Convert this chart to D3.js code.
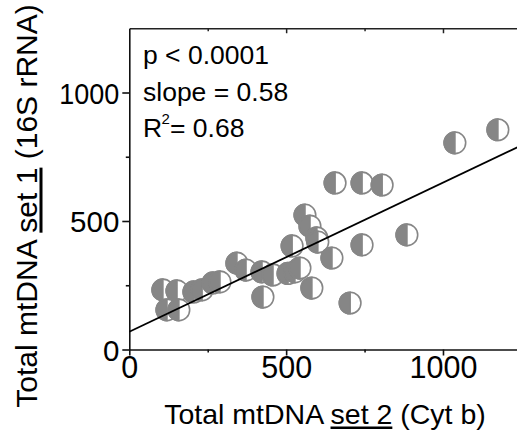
<!DOCTYPE html>
<html>
<head>
<meta charset="utf-8">
<script src="https://cdn.jsdelivr.net/npm/d3@7"></script>
<style>
  html, body { margin: 0; padding: 0; background: #fff; }
  svg { display: block; }
  text { font-family: "Liberation Sans", Arial, Helvetica, sans-serif; fill: #000; }
</style>
</head>
<body>
<svg id="chart" width="517" height="435"></svg>
<script>
// ---- data ----
const xValues = [107,152,120,158,206,232,267,289,343,372,423,426,458,506,528,544,582,519,560,576,598,601,646,742,704,656,742,806,885,1038,1175];
const yValues = [232,228,154,154,224,232,259,263,336,309,302,204,290,296,302,317,239,403,523,480,434,418,356,407,181,648,648,640,446,804,855];
const fitIntercept = 69;
const fitSlope = 0.58;
const majorTicks = [0, 500, 1000];
const minorTicks = [250, 750];
const topMajorTicks = [500, 1000];
const xTitleText = "Total mtDNA set 2 (Cyt b)";
const yTitleText = "Total mtDNA set 1 (16S rRNA)";
const statLines = ["p < 0.0001", "slope = 0.58"];
const r2Label = ["R", "2", "= 0.68"];

const points = xValues.map((x, i) => ({x, y: yValues[i]}));

const svg = d3.select("#chart");
const x = d3.scaleLinear().domain([0, 1250]).range([129.3, 521.4]);
const y = d3.scaleLinear().domain([0, 1250]).range([349.5, 28.25]);
const gray = "#868686";
const fmt = d3.format("d");

// ---- top frame ----
const topG = svg.append("g").attr("transform", `translate(0,${y(1250)})`);
topG.call(d3.axisTop(x).tickValues(topMajorTicks).tickSizeInner(-5).tickSizeOuter(0).tickFormat(""));
const topMinor = svg.append("g").attr("transform", `translate(0,${y(1250)})`);
topMinor.call(d3.axisTop(x).tickValues(minorTicks).tickSizeInner(-3).tickSizeOuter(0).tickFormat(""));
topMinor.select(".domain").remove();
[topG, topMinor].forEach(g => {
  g.selectAll("path, line").attr("stroke", "#222").attr("stroke-width", 1.5);
});

// ---- x axis ----
const xAxisG = svg.append("g").attr("transform", `translate(0,${y(0)})`);
xAxisG.call(d3.axisBottom(x).tickValues(majorTicks).tickFormat(fmt).tickSizeInner(6).tickSizeOuter(0));
const xMinorG = svg.append("g").attr("transform", `translate(0,${y(0)})`);
xMinorG.call(d3.axisBottom(x).tickValues(minorTicks).tickSizeInner(3).tickSizeOuter(0).tickFormat(""));
xMinorG.select(".domain").remove();
xAxisG.selectAll("text")
  .attr("y", 28.5).attr("dy", null)
  .attr("font-size", 30.5)
  .attr("font-family", "Liberation Sans, Arial, sans-serif")
  .attr("fill", "#000");

// ---- y axis ----
const yAxisG = svg.append("g").attr("transform", `translate(${x(0)},0)`);
yAxisG.call(d3.axisLeft(y).tickValues(majorTicks).tickFormat(fmt).tickSizeInner(7).tickSizeOuter(0));
const yMinorG = svg.append("g").attr("transform", `translate(${x(0)},0)`);
yMinorG.call(d3.axisLeft(y).tickValues(minorTicks).tickSizeInner(3.5).tickSizeOuter(0).tickFormat(""));
yMinorG.select(".domain").remove();
yAxisG.selectAll("text")
  .attr("x", -10).attr("y", 10.5).attr("dy", null)
  .attr("font-size", 29.5)
  .attr("font-family", "Liberation Sans, Arial, sans-serif")
  .attr("fill", "#000");
// the reference's "1000" on the y axis is slightly condensed
yAxisG.selectAll("text").filter(d => d === 1000).attr("textLength", 60).attr("lengthAdjust", "spacingAndGlyphs");

[xAxisG, xMinorG, yAxisG, yMinorG].forEach(g => {
  g.selectAll("path, line").attr("stroke", "#111").attr("stroke-width", 1.6);
});

// ---- points ----
const R = 10.8;
const pg = svg.append("g");
const pts = pg.selectAll("g.pt").data(points).join("g")
  .attr("class", "pt")
  .attr("transform", d => `translate(${x(d.x)},${y(d.y)})`);
pts.append("circle").attr("r", R).attr("fill", "#fff").attr("stroke", gray).attr("stroke-width", 1.6);
pts.append("path")
  .attr("d", `M0,${-R} A${R},${R} 0 0 0 0,${R} Z`)
  .attr("fill", gray).attr("stroke", gray).attr("stroke-width", 1.6);

// ---- regression line ----
const line = d3.line().x(d => x(d)).y(d => y(fitIntercept + fitSlope * d));
svg.append("path").datum([0, 1250]).attr("d", line)
  .attr("fill", "none").attr("stroke", "#000").attr("stroke-width", 1.8);

// ---- stats text ----
const statBase = [64, 101];
statLines.forEach((t, i) => {
  svg.append("text")
    .attr("x", 143).attr("y", statBase[i])
    .attr("font-size", 26.5)
    .text(t);
});
svg.append("text").attr("x", 143).attr("y", 137).attr("font-size", 26.5).text(r2Label[0]);
svg.append("text").attr("x", 161.5).attr("y", 124).attr("font-size", 15).text(r2Label[1]);
svg.append("text").attr("x", 170).attr("y", 137).attr("font-size", 26.5).text(r2Label[2]);

// ---- axis titles ----
function underline(textSel, str, sub, g, off, thick) {
  const node = textSel.node();
  const i0 = str.indexOf(sub), i1 = i0 + sub.length - 1;
  const s = node.getStartPositionOfChar(i0).x;
  const e = node.getEndPositionOfChar(i1).x;
  g.append("rect").attr("x", s).attr("y", off).attr("width", e - s).attr("height", thick).attr("fill", "#000");
}

const xtG = svg.append("g").attr("transform", "translate(325,424)");
const xt = xtG.append("text").attr("text-anchor", "middle").attr("font-size", 28.5).text(xTitleText);
underline(xt, xTitleText, "set 2", xtG, 2.5, 2.5);

const ytG = svg.append("g").attr("transform", "translate(37,206) rotate(-90)");
const yt = ytG.append("text").attr("text-anchor", "middle").attr("font-size", 30).text(yTitleText);
underline(yt, yTitleText, "set 1", ytG, 2.5, 3);
</script>
</body>
</html>
